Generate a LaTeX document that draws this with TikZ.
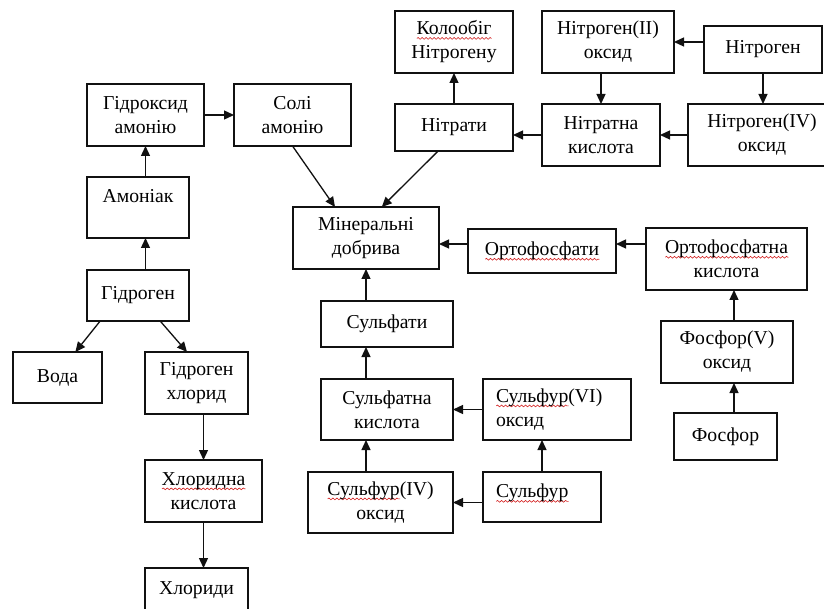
\documentclass[tikz,border=0pt]{standalone}
\usepackage{fontspec}
\setmainfont{Liberation Serif}
\usepackage{xcolor}
\usetikzlibrary{arrows.meta,positioning,calc,decorations.pathmorphing}
\definecolor{ink}{HTML}{111111}
\definecolor{spellred}{HTML}{D42020}
\newsavebox\spellbox
\newlength\spellwd
\newcommand\spell[1]{\sbox\spellbox{#1}\setlength\spellwd{\wd\spellbox}\leavevmode\rlap{\smash{\tikz[baseline=0pt,x=1pt,y=1pt]\draw[spellred,line width=.6pt,decorate,decoration={snake,amplitude=.9pt,segment length=4pt}] (0,-3.5) -- (\spellwd,-3.5);}}\usebox\spellbox}
\tikzset{box/.style={draw=ink,line width=1.3pt,align=center,inner sep=2pt,outer sep=0pt,font=\fontsize{19.7}{24}\selectfont},leftbox/.style={box,align=left,inner xsep=13pt},dims/.style 2 args={minimum width=#1pt,minimum height=#2pt},flow/.style={-{Triangle[length=10pt,width=9pt]},line width=1.3pt,draw=ink}}

\begin{document}
\begin{tikzpicture}[x=1pt,y=-1pt]
\path[use as bounding box,fill=white] (0,0) rectangle (824,609);
\clip (0,0) rectangle (824,609);
\node[box,dims={117}{62},anchor=north west] (nhfouroh) at (87,84) {Гідроксид\\амонію};
\node[box,dims={117}{62},right=30pt of nhfouroh] (salts) {Солі\\амонію};
\node[box,dims={102}{61},text height=14pt,text depth=23pt,below=31pt of nhfouroh.south west,anchor=north west] (ammonia) {Амоніак};
\node[box,dims={102}{51},below=32pt of ammonia.south west,anchor=north west] (hydrogen) {Гідроген};
\node[box,dims={89}{51},anchor=north west] (water) at (13,352) {Вода};
\node[box,dims={103}{62},anchor=north west] (hcl) at (145,352) {Гідроген\\хлорид};
\node[box,dims={117}{62},below=46pt of hcl.south west,anchor=north west] (hclacid) {\spell{Хлоридна}\\кислота};
\node[box,dims={103}{44},below=46pt of hclacid.south west,anchor=north west] (chlorides) {Хлориди};
\node[box,dims={118}{62},anchor=north west] (cycle) at (395,11) {\spell{Колообіг}\\Нітрогену};
\node[box,dims={118}{47},below=31pt of cycle] (nitrates) {Нітрати};
\node[box,dims={132}{62},anchor=north west] (ntwoox) at (542,11) {Нітроген(II)\\оксид};
\node[box,dims={118}{47},right=30pt of ntwoox.south east,anchor=south west] (nitrogen) {Нітроген};
\node[box,dims={118}{62},below=31pt of ntwoox.south west,anchor=north west] (nitracid) {Нітратна\\кислота};
\node[box,dims={148}{62},right=28pt of nitracid] (nfourox) {Нітроген(IV)\\оксид};
\node[box,dims={146}{62},anchor=north west] (fert) at (293,207) {Мінеральні\\добрива};
\node[box,dims={148}{44},anchor=north west] (orthos) at (468,229) {\spell{Ортофосфати}};
\node[box,dims={161}{62},anchor=north west] (orthoacid) at (646,228) {\spell{Ортофосфатна}\\кислота};
\node[box,dims={132}{62},anchor=north west] (pfiveox) at (661,321) {Фосфор(V)\\оксид};
\node[box,dims={103}{47},anchor=north west] (phosphorus) at (674,413) {Фосфор};
\node[box,dims={132}{46},anchor=north west] (sulfates) at (321,301) {Сульфати};
\node[box,dims={132}{61},below=32pt of sulfates] (sulfacid) {Сульфатна\\кислота};
\node[leftbox,text width=122pt,minimum height=61pt,right=30pt of sulfacid] (ssixox) {\spell{Сульфур}(VI)\\оксид};
\node[box,dims={145}{61},anchor=north west] (sfourox) at (308,472) {\spell{Сульфур}(IV)\\оксид};
\node[leftbox,text width=92pt,minimum height=50pt,text depth=12pt,below=32pt of ssixox.south west,anchor=north west] (sulfur) {\spell{Сульфур}};
\coordinate (phrow) at (0,244);
\coordinate (pcol) at (734,0);
\draw[flow] (hydrogen.north -| nhfouroh) -- (ammonia.south -| nhfouroh);
\draw[flow] (ammonia.north -| nhfouroh) -- (nhfouroh.south);
\draw[flow] (nhfouroh) -- (salts);
\draw[flow] (hydrogen.214) -- (water.55);\draw[flow] (hydrogen.311) -- (hcl.107);
\draw[flow] (hcl.south -| hclacid) -- (hclacid);
\draw[flow] (hclacid) -- (hclacid |- chlorides.north);
\draw[flow] (salts.south) -- (fert.135);\draw[flow] (nitrates.236) -- (fert.63);
\draw[flow] (nitrates) -- (cycle);
\draw[flow] (nitracid) -- (nitracid -| nitrates.east);
\draw[flow] (nitrogen.west |- ntwoox) -- (ntwoox);
\draw[flow] (ntwoox.south -| nitracid) -- (nitracid);
\draw[flow] (nitrogen.south) -- (nitrogen.south |- nfourox.north);
\draw[flow] (nfourox) -- (nitracid);
\draw[flow] (orthos.west |- phrow) -- (fert.east |- phrow);
\draw[flow] (orthoacid.west |- phrow) -- (orthos.east |- phrow);
\draw[flow] (pfiveox.north -| pcol) -- (orthoacid.south -| pcol);
\draw[flow] (phosphorus.north -| pcol) -- (pfiveox.south -| pcol);
\draw[flow] (sulfates.north -| fert) -- (fert.south);
\draw[flow] (sulfacid.north -| fert) -- (sulfates.south -| fert);
\draw[flow] (sfourox.north -| fert) -- (sulfacid.south -| fert);
\draw[flow] (ssixox) -- (sulfacid);
\draw[flow] (sulfur.west |- sfourox) -- (sfourox);
\draw[flow] (sulfur) -- (sulfur |- ssixox.south);
\end{tikzpicture}
\end{document}
